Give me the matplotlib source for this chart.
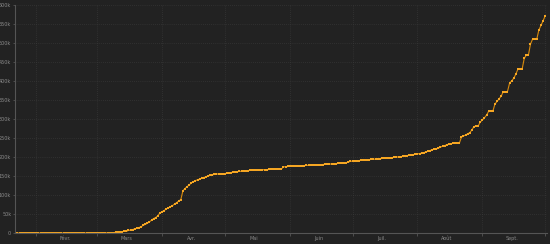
import datetime as dt

import matplotlib
matplotlib.use("Agg")
import matplotlib.pyplot as plt
import matplotlib.dates as mdates
from matplotlib.ticker import FixedLocator, NullFormatter

# cumulative values, one per day from 22 Jan
start = dt.date(2020, 1, 22)
jan = [0, 0, 2, 3, 3, 3, 4, 5, 5, 5]
feb = [6, 6, 6, 6, 6, 6, 11, 11, 11, 11, 11, 11, 11, 11, 12, 12, 12, 12, 12, 12,
       12, 12, 12, 12, 14, 18, 38, 57, 100]
mar = [130, 191, 204, 288, 380, 656, 959, 1136, 1219, 1794, 2293, 2293, 3681, 4496,
       4532, 6683, 7715, 9124, 10970, 12758, 14463, 16243, 20123, 22622, 25600,
       29551, 33402, 38105, 40708, 45170, 52827]
# the rest in thousands
apr = [56, 59, 63, 66, 69, 72, 76, 80, 84, 88, 111, 117, 122, 126, 132, 135, 138,
       140, 142, 144, 146, 148, 150, 152, 153, 154, 155, 155.5, 155, 155]
may = [156, 157, 158, 159, 160, 161, 161.5, 162, 162.5, 163, 163.5, 164, 165, 165.5,
       165.8, 166, 166.2, 166.4, 166.6, 166.8, 167, 167.2, 167.3, 167.4, 167.5,
       167.6, 167.8, 168, 174, 174.5, 175]
jun = [175.3, 175.6, 175.9, 176.2, 176.5, 176.8, 177.1, 177.4, 177.7, 178, 178.3,
       178.6, 178.9, 179.2, 179.5, 179.8, 180.1, 180.5, 180.9, 181.3, 181.7, 182.1,
       182.5, 182.9, 183.3, 183.7, 184.1, 185, 186.5, 188.6]
jul = [189, 189.5, 190, 190.5, 191, 191.5, 192, 192.5, 193, 193.5, 194, 194.5, 195,
       195.5, 196, 196.5, 197, 197.5, 198, 198.5, 199, 199.5, 200.5, 201, 201.5,
       202.5, 203.5, 204.5, 205, 206, 207]
aug = [208, 209, 210, 211.5, 213, 215, 217, 219, 220, 221, 223, 226, 228, 230, 232,
       234, 235, 236, 236, 236, 236, 252, 255, 258, 261, 264, 271, 280, 281.5, 281.5,
       292]
sep = [297, 303, 310, 320, 320, 320, 339, 346, 353, 360, 372, 372, 372, 394, 400,
       407, 418, 431, 431, 431, 459, 468, 468, 497, 510, 510, 510, 534, 546, 558]
oct_ = [571]

values = jan + feb + mar + [v * 1000 for v in apr + may + jun + jul + aug + sep + oct_]
dates = [start + dt.timedelta(days=i) for i in range(len(values))]

month_names = ["Févr.", "Mars", "Avr.", "Mai", "Juin", "Juil.", "Août", "Sept."]
yticks = [0, 50000, 100000, 150000, 200000, 250000, 300000, 350000, 400000,
          450000, 500000, 550000, 600000]

bg = "#222222"
fig = plt.figure(figsize=(5.5, 2.44), dpi=100, facecolor=bg)
ax = fig.add_axes([0.028, 0.045, 0.967, 0.935])
ax.set_facecolor(bg)

ax.plot(dates, values, color="#d88a0c", lw=0.8, marker="s", ms=2.1,
        mec="#f5a623", mfc="#f5a623", mew=0)

ax.set_xlim(start, dt.date(2020, 10, 1) + dt.timedelta(days=1))
ax.set_ylim(0, 600000)

# month boundaries: ticks + grid, labels at mid-month
major = [mdates.date2num(dt.date(2020, m, 1)) for m in range(2, 11)]
minor = [mdates.date2num(dt.date(2020, m, 15)) for m in range(2, 10)]
ax.xaxis.set_major_locator(FixedLocator(major))
ax.xaxis.set_major_formatter(NullFormatter())
ax.set_xticks(minor, minor=True)
ax.set_xticklabels(month_names, minor=True)
ax.tick_params(axis="x", which="major", length=2, color="#555555", width=0.6)
ax.tick_params(axis="x", which="minor", length=0, labelsize=3.5,
               labelcolor="#8a8a8a", pad=2)

ax.set_yticks(yticks)
ax.set_yticklabels(["0" if v == 0 else f"{v // 1000}k" for v in yticks])
ax.tick_params(axis="y", length=1.5, color="#555555", width=0.6, labelsize=3.5,
               labelcolor="#8a8a8a", pad=1.5)

ax.grid(True, which="major", color="#3e3e3e", lw=0.5, ls=(0, (1, 2)))
ax.set_axisbelow(True)

for side in ["top", "right"]:
    ax.spines[side].set_visible(False)
for side in ["left", "bottom"]:
    ax.spines[side].set_color("#555555")
    ax.spines[side].set_linewidth(0.8)

fig.savefig("out.png", dpi=100, facecolor=bg)
